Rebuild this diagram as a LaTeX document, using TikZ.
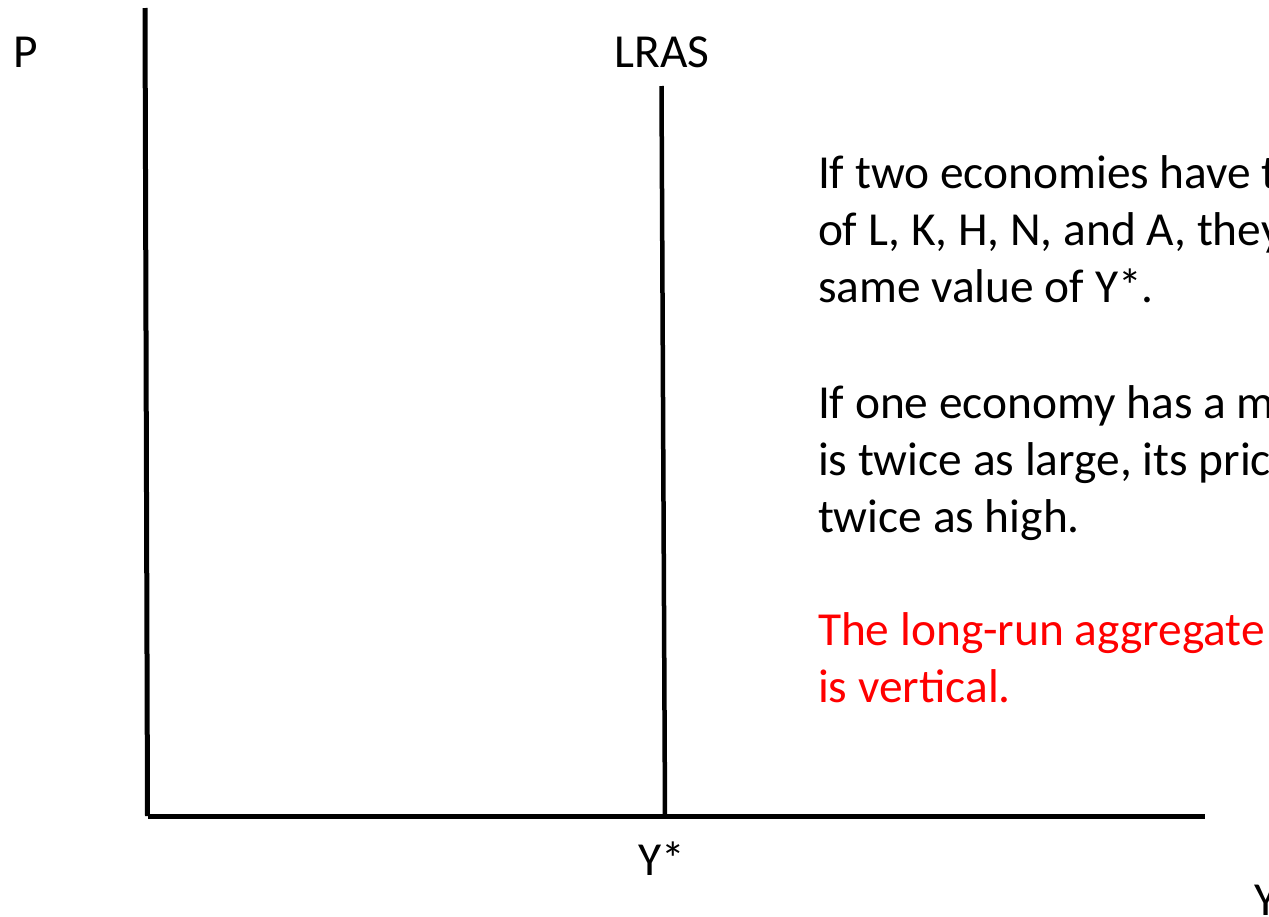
\documentclass[tikz,border=0pt]{standalone}
\usepackage{fontspec}
\setmainfont{Carlito}
\definecolor{txtred}{RGB}{255,0,0}
\begin{document}
\begin{tikzpicture}[x=1pt,y=-1pt,
  axis/.style={line width=5pt,black},
  lras/.style={line width=4.5pt,black},
  lbl/.style={inner sep=0pt,outer sep=0pt,font=\fontsize{47.4}{57}\selectfont},
  line/.style={lbl,anchor=base west}]
\useasboundingbox (0,0) rectangle (1269,916);
\clip (0,0) rectangle (1269,916);
\fill[white] (0,0) rectangle (1269,916);
% axes
\coordinate (ytop) at (145,8);
\coordinate (origin) at (147.5,816);
\coordinate (xend) at (1205,816);
\coordinate (ltop) at (661.5,86);
\coordinate (lbot) at (665,816);
\draw[axis] (ytop) -- (origin);
\draw[axis] (origin) -- (xend);
\draw[lras] (ltop) -- (lbot);
% axis labels
\node[line] (P) at (13,67) {P};
\node[lbl,anchor=base] (LRAS) at (662,67) {LRAS};
\node[lbl,anchor=base] (Ystar) at (662,875) {Y*};
\node[line] (Y) at (1254,915) {Y};
% text
\node[line] (a1) at (818,188) {If two economies have the};
\node[line] (a2) at (818,245) {of L, K, H, N, and A, they};
\node[line] (a3) at (818,302) {same value of Y*.};
\node[line] (b1) at (818,418) {If one economy has a m};
\node[line] (b2) at (818,475) {is twice as large, its pric};
\node[line] (b3) at (818,532) {twice as high.};
\node[line,text=txtred] (c1) at (818,645) {The long-run aggregate};
\node[line,text=txtred] (c2) at (818,702) {is vertical.};
\end{tikzpicture}
\end{document}
